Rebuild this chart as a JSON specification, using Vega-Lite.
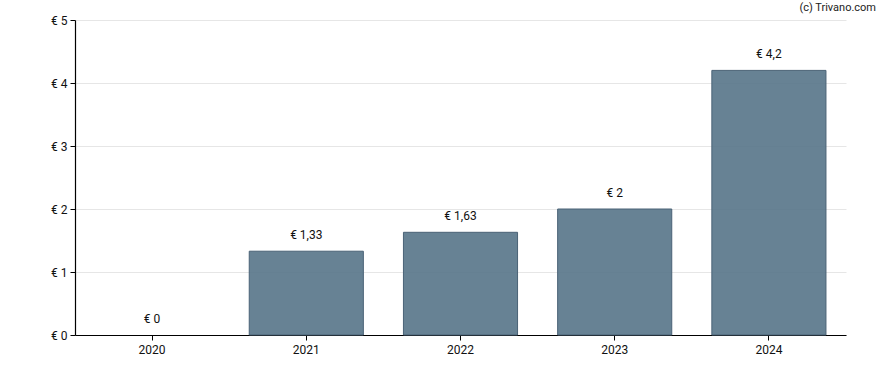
{
  "$schema": "https://vega.github.io/schema/vega-lite/v6.json",
  "width": 771,
  "height": 315,
  "autosize": {"type": "none"},
  "padding": {"left": 75, "top": 20, "right": 42, "bottom": 35},
  "background": "white",
  "config": {
    "view": {"stroke": null},
    "font": "Roboto",
    "axis": {"labelFont": "Roboto", "labelFontSize": 12, "labelColor": "#111111", "domainColor": "#000000", "tickColor": "#000000", "gridColor": "#e6e6e6"}
  },
  "title": {
    "text": "(c) Trivano.com",
    "anchor": "end",
    "frame": "group",
    "dx": 30,
    "dy": 5,
    "offset": 6,
    "fontSize": 11,
    "fontWeight": "normal",
    "font": "Roboto",
    "color": "#222222"
  },
  "data": {
    "values": [
      {"year": "2020", "value": 0, "label": "€ 0"},
      {"year": "2021", "value": 1.33, "label": "€ 1,33"},
      {"year": "2022", "value": 1.63, "label": "€ 1,63"},
      {"year": "2023", "value": 2, "label": "€ 2"},
      {"year": "2024", "value": 4.2, "label": "€ 4,2"}
    ]
  },
  "encoding": {
    "x": {
      "field": "year", "type": "nominal", "sort": null,
      "scale": {"paddingInner": 0.26, "paddingOuter": 0.13},
      "axis": {"title": null, "labelAngle": 0, "tickSize": 5, "labelPadding": 4, "grid": false, "domainWidth": 1.2}
    },
    "y": {
      "field": "value", "type": "quantitative",
      "scale": {"domain": [0, 5], "nice": false},
      "axis": {"title": null, "values": [0, 1, 2, 3, 4, 5], "labelOverlap": false, "labelExpr": "'€ ' + datum.value", "tickSize": 5, "labelPadding": 3, "grid": true, "domainWidth": 1.2}
    }
  },
  "layer": [
    {
      "mark": {"type": "bar", "fill": "#567488", "fillOpacity": 0.9, "stroke": "#4a6276", "strokeWidth": 1},
      "encoding": {
        "strokeOpacity": {"condition": {"test": "datum.value > 0", "value": 1}, "value": 0}
      }
    },
    {
      "mark": {"type": "text", "baseline": "bottom", "dy": -9, "fontSize": 12, "font": "Roboto", "color": "#111111"},
      "encoding": {"text": {"field": "label"}}
    }
  ]
}
